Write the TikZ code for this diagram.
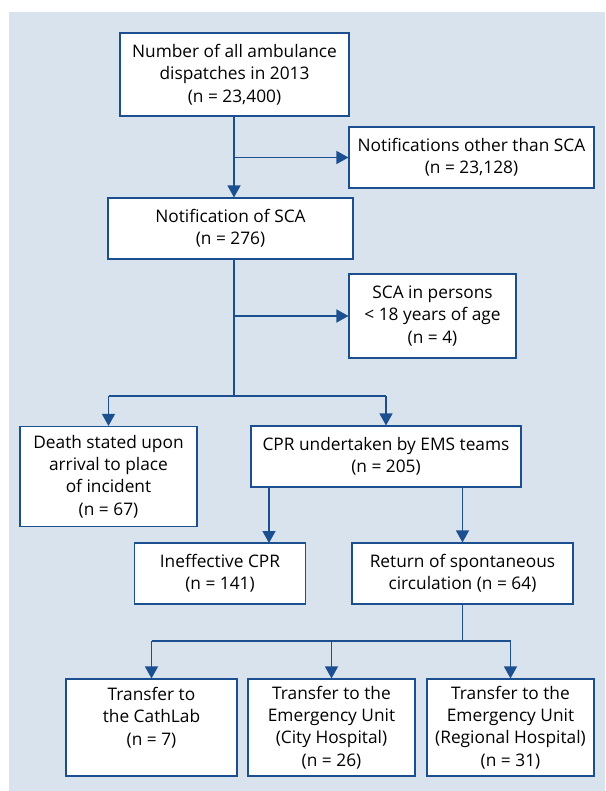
\documentclass[tikz,border=0pt]{standalone}
\usepackage{fontspec}
\setmainfont{Open Sans}
\usetikzlibrary{arrows.meta}
\definecolor{bgc}{HTML}{D9E3ED}
\definecolor{lc}{HTML}{1B4F8F}
\tikzset{
  box/.style={draw=lc, fill=white, line width=1.1pt, align=center, inner sep=0pt,
    font=\fontsize{17.3}{22.3}\selectfont},
  conn/.style={draw=lc, line width=1.3pt},
  arr/.style={conn, -{Triangle[length=12pt,width=13pt]}},
}
\begin{document}
\begin{tikzpicture}[x=1pt,y=-1pt]
\useasboundingbox (0,0) rectangle (605,791);
\fill[bgc] (9,12) rectangle (605,791);
\node[box, minimum width=229pt, minimum height=83pt] (b1) at (234.5,74.5)
  {Number of all ambulance\\dispatches in 2013\\(n = 23,400)};
\node[box, minimum width=245pt, minimum height=61pt] (b2) at (471.5,157.5)
  {Notifications other than SCA\\(n = 23,128)};
\node[box, minimum width=245pt, minimum height=61pt] (b3) at (230.5,228.5)
  {Notification of SCA\\(n = 276)};
\node[box, minimum width=167pt, minimum height=84pt] (b4) at (432.5,316)
  {SCA in persons\\< 18 years of age\\(n = 4)};
\node[box, minimum width=177pt, minimum height=100pt] (b5) at (108.5,476.5)
  {Death stated upon\\arrival to place\\of incident\\(n = 67)};
\node[box, minimum width=270pt, minimum height=61pt] (b6) at (386,456.5)
  {CPR undertaken by EMS teams\\(n = 205)};
\node[box, minimum width=171pt, minimum height=61pt] (b7) at (220,573.5)
  {Ineffective CPR\\(n = 141)};
\node[box, minimum width=221pt, minimum height=61pt] (b8) at (462.5,573.5)
  {Return of spontaneous\\circulation (n = 64)};
\node[box, minimum width=171pt, minimum height=97pt] (b9) at (151.5,727.5)
  {Transfer to\\the CathLab\\(n = 7)\\\mbox{}};
\node[box, minimum width=167pt, minimum height=97pt] (b10) at (331.5,727.5)
  {Transfer to the\\Emergency Unit\\(City Hospital)\\(n = 26)};
\node[box, minimum width=167pt, minimum height=97pt] (b11) at (510.5,727.5)
  {Transfer to the\\Emergency Unit\\(Regional Hospital)\\(n = 31)};
% connectors
\coordinate (s1) at (234,116);
\draw[arr] (s1) -- (s1 |- b3.north);
\draw[arr] (s1 |- b2.west) -- (b2.west);
\coordinate (s3) at (234,259);
\coordinate (j3) at (234,396);
\draw[conn] (s3) -- (j3);
\draw[arr] (s3 |- b4.west) -- (b4.west);
\draw[conn] (b5.north |- j3) -- (b6.north |- j3);
\draw[arr] (b5.north |- j3) -- (b5.north);
\draw[arr] (b6.north |- j3) -- (b6.north);
\coordinate (t7) at (269,543);
\draw[arr] (t7 |- b6.south) -- (t7);
\draw[arr] (b8.north |- b6.south) -- (b8.north);
\coordinate (j8) at (462.5,641);
\draw[conn] (b8.south) -- (j8);
\draw[conn] (b9.north |- j8) -- (b11.north |- j8);
\draw[arr] (b9.north |- j8) -- (b9.north);
\draw[arr] (b10.north |- j8) -- (b10.north);
\draw[arr] (b11.north |- j8) -- (b11.north);
\end{tikzpicture}
\end{document}
